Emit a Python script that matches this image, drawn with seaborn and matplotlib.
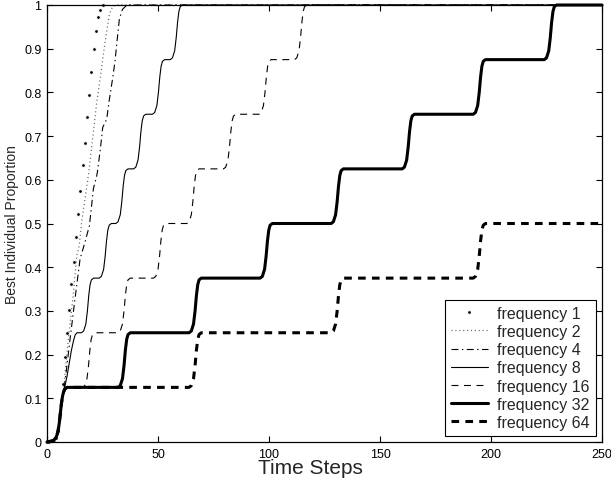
import matplotlib
matplotlib.use("Agg")
import matplotlib.pyplot as plt
import seaborn as sns
import pandas as pd

# ---------------- data ----------------
INIT_T = [0, 1, 2, 3, 4, 4.5, 5, 5.5, 6, 6.5, 7, 7.5, 8, 9]
INIT_V = [0, 0.001, 0.002, 0.004, 0.01, 0.016, 0.026, 0.042, 0.065, 0.088, 0.105, 0.115, 0.121, 0.125]

F1_T = [0, 1, 2, 3, 4, 5, 6, 7, 8, 9, 10, 11, 12, 13, 14, 15, 16, 17, 18, 19, 20, 21, 22, 23, 24, 25]
F1_V = [0, 0.001, 0.002, 0.004, 0.01, 0.026, 0.065, 0.132, 0.195, 0.25, 0.303, 0.362, 0.413,
        0.469, 0.522, 0.575, 0.634, 0.684, 0.744, 0.795, 0.847, 0.899, 0.94, 0.973, 0.989, 1.0]

F2_T = [8, 9.6, 11.8, 13.4, 14.5, 15.6, 18.6, 20.9, 22.4, 23.9, 26, 28.1, 29.5, 31, 250]
F2_V = [0.15, 0.236, 0.335, 0.426, 0.449, 0.503, 0.609, 0.709, 0.777, 0.83, 0.91, 0.979, 0.996, 1.0, 1.0]

F4_T = [8.1, 10.4, 12.6, 14.9, 17.1, 19.1, 20.1, 20.9, 22.4, 22.8, 24.2, 25.1, 26.9, 28.0,
        29.5, 30.6, 31.6, 32.6, 34.0, 36.0, 250]
F4_V = [0.137, 0.236, 0.327, 0.419, 0.457, 0.495, 0.541, 0.58, 0.609, 0.621, 0.678, 0.72, 0.739,
        0.781, 0.83, 0.87, 0.92, 0.968, 0.99, 1.0, 1.0]

F8_T = [8, 9, 10, 11, 12, 12.7, 13.5,
        15.5, 16.5, 17.5, 18.2, 18.8, 19.4, 20, 21,
        23.5, 24.5, 25.5, 26.2, 26.8, 27.4, 28, 29,
        31, 32, 33, 33.7, 34.3, 34.9, 35.5, 36.5,
        39, 40, 41, 41.7, 42.3, 42.9, 43.5, 44.5,
        47.5, 48.5, 49.5, 50.2, 50.8, 51.4, 52, 53,
        55.5, 56.5, 57.5, 58.2, 58.8, 59.4, 60, 61, 250]
F8_V = [0.126, 0.15, 0.18, 0.21, 0.233, 0.245, 0.25,
        0.25, 0.254, 0.27, 0.3, 0.335, 0.36, 0.371, 0.375,
        0.375, 0.379, 0.395, 0.425, 0.46, 0.485, 0.496, 0.5,
        0.5, 0.504, 0.52, 0.55, 0.585, 0.61, 0.621, 0.625,
        0.625, 0.629, 0.645, 0.675, 0.71, 0.735, 0.746, 0.75,
        0.75, 0.754, 0.77, 0.8, 0.835, 0.86, 0.871, 0.875,
        0.875, 0.879, 0.895, 0.925, 0.96, 0.985, 0.996, 1.0, 1.0]

F16_T = [16, 17, 18, 18.7, 19.3, 19.9, 20.5, 21.5,
         32, 33, 34, 34.7, 35.3, 35.9, 36.5, 37.5,
         48, 49, 50, 50.7, 51.3, 51.9, 52.5, 53.5,
         63, 64, 65, 65.7, 66.3, 66.9, 67.5, 68.5,
         79.5, 80.5, 81.5, 82.2, 82.8, 83.4, 84, 85,
         95.5, 96.5, 97.5, 98.2, 98.8, 99.4, 100, 101,
         111.5, 112.5, 113.5, 114.2, 114.8, 115.4, 116, 117, 250]
F16_V = [0.125, 0.129, 0.145, 0.175, 0.21, 0.235, 0.246, 0.25,
         0.25, 0.254, 0.27, 0.3, 0.335, 0.36, 0.371, 0.375,
         0.375, 0.379, 0.395, 0.425, 0.46, 0.485, 0.496, 0.5,
         0.5, 0.504, 0.52, 0.55, 0.585, 0.61, 0.621, 0.625,
         0.625, 0.629, 0.645, 0.675, 0.71, 0.735, 0.746, 0.75,
         0.75, 0.754, 0.77, 0.8, 0.835, 0.86, 0.871, 0.875,
         0.875, 0.879, 0.895, 0.925, 0.96, 0.985, 0.996, 1.0, 1.0]

F32_T = [32, 33, 34, 34.7, 35.3, 35.9, 36.5, 37.5,
         64, 65, 66, 66.7, 67.3, 67.9, 68.5, 69.5,
         96, 97, 98, 98.7, 99.3, 99.9, 100.5, 101.5,
         128, 129, 130, 130.7, 131.3, 131.9, 132.5, 133.5,
         160, 161, 162, 162.7, 163.3, 163.9, 164.5, 165.5,
         192, 193, 194, 194.7, 195.3, 195.9, 196.5, 197.5,
         224, 225, 226, 226.7, 227.3, 227.9, 228.5, 229.5, 250]
F32_V = [0.125, 0.129, 0.145, 0.175, 0.21, 0.235, 0.246, 0.25,
         0.25, 0.254, 0.27, 0.3, 0.335, 0.36, 0.371, 0.375,
         0.375, 0.379, 0.395, 0.425, 0.46, 0.485, 0.496, 0.5,
         0.5, 0.504, 0.52, 0.55, 0.585, 0.61, 0.621, 0.625,
         0.625, 0.629, 0.645, 0.675, 0.71, 0.735, 0.746, 0.75,
         0.75, 0.754, 0.77, 0.8, 0.835, 0.86, 0.871, 0.875,
         0.875, 0.879, 0.895, 0.925, 0.96, 0.985, 0.996, 1.0, 1.0]

F64_T = [64, 65, 66, 66.7, 67.3, 67.9, 68.5, 69.5,
         128, 129, 130, 130.7, 131.3, 131.9, 132.5, 133.5,
         192, 193, 194, 194.7, 195.3, 195.9, 196.5, 197.5, 250]
F64_V = [0.125, 0.129, 0.145, 0.175, 0.21, 0.235, 0.246, 0.25,
         0.25, 0.254, 0.27, 0.3, 0.335, 0.36, 0.371, 0.375,
         0.375, 0.379, 0.395, 0.425, 0.46, 0.485, 0.496, 0.5, 0.5]

LABELS = ["frequency 1", "frequency 2", "frequency 4", "frequency 8",
          "frequency 16", "frequency 32", "frequency 64"]
X_TICKS = [0, 50, 100, 150, 200, 250]
Y_TICKS = [0, 0.1, 0.2, 0.3, 0.4, 0.5, 0.6, 0.7, 0.8, 0.9, 1]
Y_TICK_LABELS = ["0", "0.1", "0.2", "0.3", "0.4", "0.5", "0.6", "0.7", "0.8", "0.9", "1"]

# ---------------- style ----------------
sns.set_style("white")
plt.rcParams["font.family"] = ["Liberation Sans", "DejaVu Sans"]
plt.rcParams["lines.scale_dashes"] = False
plt.rcParams["legend.numpoints"] = 1

fig = plt.figure(figsize=(6.11, 4.81), dpi=100)
ax = fig.add_axes([47 / 611, 38 / 481, 555 / 611, 437 / 481])

n_short = 12  # shared initial rise up to t=7.5 for fast-changing series

series = [
    (F1_T, F1_V, dict(linestyle="none", marker=".", markersize=5.5, color="black")),
    (INIT_T[:n_short] + F2_T, INIT_V[:n_short] + F2_V,
     dict(linestyle=(0, (0.8, 2.0)), linewidth=0.9, color="0.4")),
    (INIT_T[:n_short] + F4_T, INIT_V[:n_short] + F4_V,
     dict(linestyle=(0, (5, 2.5, 1, 2.5)), linewidth=0.8, color="black")),
    (INIT_T[:n_short] + F8_T, INIT_V[:n_short] + F8_V,
     dict(linestyle="-", linewidth=0.8, color="black")),
    (INIT_T + F16_T, INIT_V + F16_V,
     dict(linestyle=(0, (5, 4)), linewidth=0.8, color="black")),
    (INIT_T + F32_T, INIT_V + F32_V,
     dict(linestyle="-", linewidth=2.2, color="black")),
    (INIT_T + F64_T, INIT_V + F64_V,
     dict(linestyle=(0, (5.5, 4.5)), linewidth=2.2, color="black")),
]

for (t, v, kw), lab in zip(series, LABELS):
    df = pd.DataFrame({"t": t, "v": v})
    sns.lineplot(data=df, x="t", y="v", ax=ax, label=lab, estimator=None,
                 sort=False, clip_on=False, **kw)

ax.set_xlim(0, 250)
ax.set_ylim(0, 1)
ax.set_xticks(X_TICKS)
ax.set_xticklabels([str(x) for x in X_TICKS])
ax.set_yticks(Y_TICKS)
ax.set_yticklabels(Y_TICK_LABELS)
ax.tick_params(direction="in", top=True, right=True, bottom=True, left=True,
               length=4, width=0.8, colors="black", labelsize=9, pad=4)
for s in ax.spines.values():
    s.set_visible(True)
    s.set_color("black")
    s.set_linewidth(0.9)

ax.set_xlabel("Time Steps", fontsize=15)
ax.xaxis.set_label_coords(0.474, -0.037)
ax.set_ylabel("Best Individual Proportion", fontsize=10, labelpad=4)

leg = ax.legend(loc="lower right", fontsize=11.5, frameon=True, fancybox=False,
                edgecolor="black", framealpha=1, handlelength=2.3,
                labelspacing=0.2, borderaxespad=0.4, borderpad=0.35,
                handletextpad=0.6)
leg.get_frame().set_linewidth(0.8)

fig.savefig("out.png", dpi=100)
